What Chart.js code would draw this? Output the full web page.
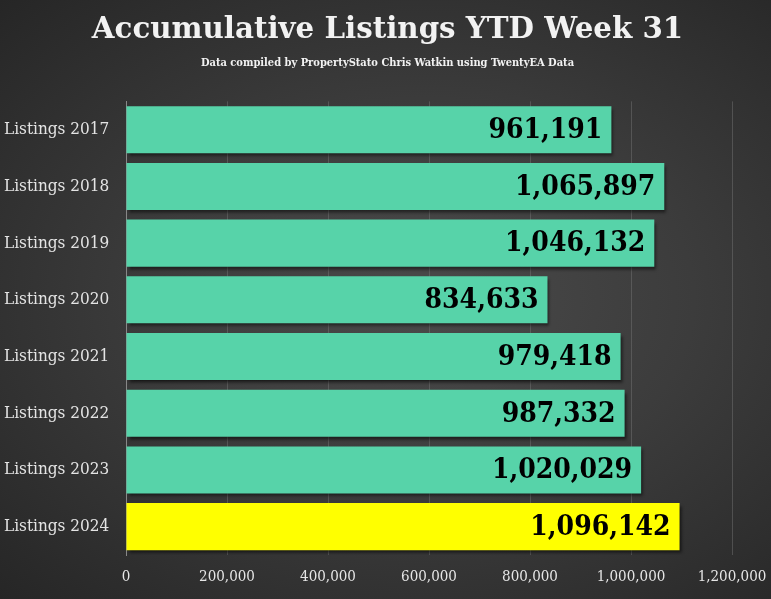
<!DOCTYPE html>
<html><head><meta charset="utf-8">
<script src="https://cdn.jsdelivr.net/npm/chart.js@4/dist/chart.umd.min.js"></script>
<style>
html,body{margin:0;padding:0;width:771px;height:599px;overflow:hidden;}
body{background:radial-gradient(ellipse at 55% 50%, #4a4a4a 0%, #3c3c3c 45%, #262626 100%);}
#wrap{position:relative;width:771px;height:599px;}
</style></head>
<body><div id="wrap"><canvas id="c" width="771" height="599"></canvas></div>
<script>
const categories = ["Listings 2017","Listings 2018","Listings 2019","Listings 2020","Listings 2021","Listings 2022","Listings 2023","Listings 2024"];
const listings = [961191,1065897,1046132,834633,979418,987332,1020029,1096142];
const barColors = ["#57d3a9","#57d3a9","#57d3a9","#57d3a9","#57d3a9","#57d3a9","#57d3a9","#ffff00"];
const xTicks = [0,200000,400000,600000,800000,1000000,1200000];
const titleText = "Accumulative Listings YTD Week 31";
const subtitleText = "Data compiled by PropertyStato Chris Watkin using TwentyEA Data";

const fmt = v => v.toLocaleString('en-US');

const shadowPlugin = {
  id:'shadow',
  beforeDatasetDraw(chart){ const ctx=chart.ctx; ctx.save(); ctx.shadowColor='rgba(0,0,0,0.55)'; ctx.shadowOffsetX=2; ctx.shadowOffsetY=3; ctx.shadowBlur=3; },
  afterDatasetDraw(chart){ chart.ctx.restore(); }
};
const labelPlugin = {
  id:'vlabels',
  afterDatasetsDraw(chart){
    const ctx=chart.ctx; const meta=chart.getDatasetMeta(0);
    ctx.save();
    ctx.font='bold 28px "DejaVu Serif Condensed", "DejaVu Serif", serif';
    ctx.fillStyle='#000'; ctx.textAlign='right'; ctx.textBaseline='middle';
    meta.data.forEach((bar,i)=>{ ctx.fillText(fmt(listings[i]), bar.x-9, bar.y+1); });
    ctx.restore();
  }
};

new Chart(document.getElementById('c'), {
  type:'bar',
  data:{ labels:categories, datasets:[{ data:listings, backgroundColor:barColors, borderWidth:0, barPercentage:0.83, categoryPercentage:1.0 }]},
  options:{
    indexAxis:'y', responsive:false, animation:false,
    layout:{ padding:{ left:4, right:0, top:0, bottom:0 } },
    plugins:{
      legend:{display:false}, tooltip:{enabled:false},
      title:{ display:true, text:titleText, color:'#f2f2f2', font:{family:'"DejaVu Serif", serif', size:29.3, weight:'bold'}, padding:{top:13,bottom:8} },
      subtitle:{ display:true, text:subtitleText, color:'#f2f2f2', font:{family:'"DejaVu Serif Condensed","DejaVu Serif", serif', size:11, weight:'bold'}, padding:{top:0,bottom:32} }
    },
    scales:{
      x:{ min:0, max:1200000, afterBuildTicks(ax){ ax.ticks = xTicks.map(v=>({value:v})); },
          afterFit(ax){ ax.paddingRight = 39; },
          grid:{ color:'rgba(120,120,120,0.45)', drawTicks:false }, border:{display:false},
          ticks:{ color:'#e6e6e6', padding:13, font:{family:'"DejaVu Serif Condensed","DejaVu Serif", serif', size:15}, callback:v=>fmt(v), maxRotation:0 } },
      y:{ grid:{display:false}, border:{display:true, color:'#888'},
          afterFit(ax){ ax.width = 122; },
          ticks:{ color:'#e4e4e4', crossAlign:'far', padding:10, font:{family:'"DejaVu Serif Condensed","DejaVu Serif", serif', size:17} } }
    }
  },
  plugins:[shadowPlugin, labelPlugin]
});
</script></body></html>
